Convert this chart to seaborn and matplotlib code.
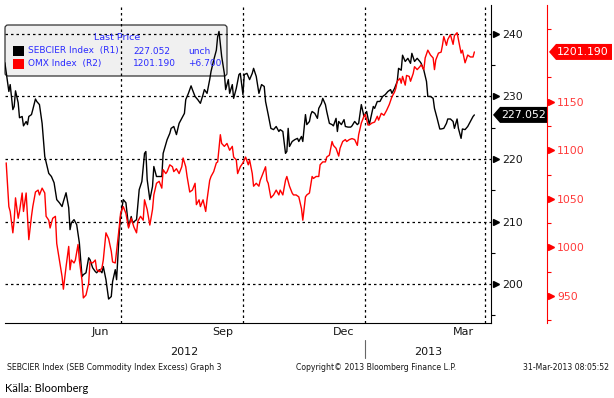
import numpy as np
import pandas as pd
import seaborn as sns
import matplotlib.pyplot as plt
import matplotlib.transforms as mtransforms
from matplotlib.patches import FancyBboxPatch, Rectangle, Polygon

sns.set_style("white")
plt.rcParams['font.family'] = ['DejaVu Sans']

# days counted from 1 Apr 2012
start = pd.Timestamp('2012-04-01')

seb_day = [4, 7, 8, 10, 11, 12, 14, 15, 17, 18,
           20, 21, 22, 24, 25, 27, 28, 30, 32, 34,
           37, 39, 41, 43, 45, 47, 48, 50, 52, 53,
           54, 56, 58, 60, 62, 63, 65, 67, 68, 70,
           72, 73, 75, 77, 78, 80, 82, 84, 85, 87,
           88, 90, 91, 93, 95, 97, 99, 100, 103, 105,
           107, 109, 110, 111, 113, 115, 116, 118, 120, 122,
           123, 126, 128, 129, 131, 133, 135, 137, 139, 140,
           142, 144, 145, 147, 149, 151, 153, 154, 156, 158,
           159, 161, 163, 164, 165, 167, 169, 170, 172, 173,
           175, 176, 178, 180, 181, 183, 184, 186, 188, 190,
           191, 193, 195, 197, 199, 200, 202, 204, 206, 208,
           210, 211, 213, 215, 216, 217, 218, 220, 222, 224,
           225, 227, 228, 230, 231, 233, 234, 235, 237, 239,
           240, 242, 243, 245, 246, 248, 250, 251, 253, 254,
           255, 257, 259, 260, 262, 264, 265, 267, 269, 270,
           272, 274, 276, 278, 281, 282, 284, 286, 288, 290,
           292, 294, 295, 297, 299, 300, 302, 303, 305, 307,
           309, 310, 312, 314, 316, 317, 319, 321, 322, 324,
           326, 327, 329, 331, 332, 334, 336, 337, 339, 341,
           342, 344, 345, 347, 348, 350, 352, 354, 356, 357]
seb_val = [235.4, 230.8, 231.9, 227.9, 228.4, 230.9, 229.0, 226.6, 226.8, 225.3,
           226.0, 225.5, 226.8, 227.1, 227.9, 229.6, 229.2, 228.7, 225.7, 220.4,
           217.7, 217.2, 216.2, 213.5, 213.0, 212.4, 213.2, 214.6, 212.2, 208.7,
           209.8, 210.3, 209.5, 206.6, 201.2, 201.5, 201.8, 204.2, 203.9, 202.6,
           202.0, 201.8, 202.3, 201.8, 202.8, 200.7, 197.6, 198.0, 200.4, 202.3,
           200.7, 208.2, 210.8, 213.5, 213.0, 209.2, 210.8, 209.8, 210.3, 215.1,
           216.4, 220.9, 221.2, 216.7, 213.5, 215.6, 218.8, 217.2, 217.2, 217.2,
           220.9, 223.1, 224.1, 224.9, 225.2, 223.9, 225.7, 226.5, 227.3, 229.5,
           230.5, 231.7, 231.1, 230.0, 229.5, 228.9, 230.3, 231.1, 230.5, 232.7,
           234.0, 235.8, 237.4, 239.6, 240.4, 236.4, 233.7, 231.1, 232.7, 230.5,
           231.9, 229.7, 231.3, 233.5, 233.7, 230.3, 233.5, 233.7, 232.7, 233.7,
           234.5, 233.2, 230.5, 231.9, 231.6, 229.2, 227.1, 224.9, 224.7, 225.2,
           224.4, 224.7, 224.4, 220.9, 221.2, 224.9, 222.0, 222.8, 223.1, 223.3,
           222.8, 223.6, 222.8, 227.1, 225.5, 226.0, 227.1, 227.6, 227.3, 226.5,
           228.1, 228.9, 229.7, 228.7, 227.6, 225.7, 225.5, 225.3, 226.5, 224.4,
           226.0, 225.5, 226.3, 225.2, 225.1, 225.1, 225.3, 226.0, 225.5, 225.7,
           228.7, 226.8, 227.6, 225.5, 228.4, 228.1, 229.2, 229.2, 230.0, 230.3,
           230.8, 231.1, 230.5, 231.3, 232.4, 234.5, 234.2, 236.6, 235.6, 236.1,
           235.3, 236.9, 235.6, 236.1, 235.6, 235.3, 234.2, 232.4, 230.0, 230.0,
           229.7, 228.1, 226.5, 224.8, 224.8, 224.9, 225.7, 226.4, 226.4, 226.0,
           224.9, 226.4, 224.9, 223.3, 224.8, 224.7, 225.2, 226.0, 226.8, 227.052]

omx_day = [5, 7, 8, 10, 11, 12, 14, 15, 17, 18,
           20, 22, 24, 25, 27, 29, 30, 32, 34, 35,
           37, 38, 40, 42, 43, 45, 47, 48, 50, 52,
           53, 54, 56, 57, 59, 60, 62, 63, 65, 67,
           68, 70, 72, 73, 75, 77, 78, 80, 82, 84,
           85, 87, 88, 90, 91, 93, 95, 97, 99, 101,
           103, 104, 106, 108, 109, 111, 113, 115, 116, 118,
           120, 122, 123, 125, 126, 128, 130, 131, 133, 135,
           137, 138, 140, 141, 143, 145, 147, 148, 150, 151,
           153, 155, 156, 158, 159, 161, 163, 164, 166, 167,
           169, 171, 173, 175, 176, 178, 179, 181, 183, 185,
           187, 188, 190, 191, 193, 195, 196, 198, 200, 201,
           202, 204, 206, 208, 210, 211, 213, 215, 216, 218,
           220, 221, 223, 225, 227, 228, 230, 231, 233, 235,
           236, 238, 240, 241, 243, 245, 246, 248, 250, 251,
           253, 255, 256, 258, 260, 261, 263, 265, 267, 269,
           270, 272, 274, 275, 277, 278, 280, 282, 284, 285,
           287, 289, 291, 293, 295, 297, 298, 299, 301, 302,
           303, 305, 306, 308, 309, 311, 312, 314, 316, 317,
           319, 320, 322, 324, 326, 327, 328, 330, 332, 333,
           334, 336, 337, 339, 341, 342, 344, 345, 347, 348,
           350, 352, 354, 356, 357]
omx_val = [1087, 1042, 1037, 1015, 1028, 1051, 1030, 1037, 1056, 1037,
           1056, 1008, 1032, 1042, 1057, 1059, 1054, 1061, 1056, 1032,
           1028, 1020, 1030, 1032, 1004, 987, 970, 957, 980, 1001,
           977, 987, 984, 987, 1003, 987, 966, 948, 951, 963,
           985, 984, 987, 977, 975, 979, 987, 1015, 1009, 996,
           985, 984, 996, 1021, 1035, 1042, 1035, 1020, 1030, 1021,
           1015, 1027, 1032, 1028, 1049, 1039, 1023, 1039, 1054, 1066,
           1068, 1061, 1080, 1076, 1078, 1085, 1083, 1078, 1081, 1076,
           1083, 1092, 1083, 1073, 1057, 1059, 1066, 1044, 1049, 1042,
           1049, 1037, 1049, 1069, 1073, 1078, 1087, 1088, 1116, 1107,
           1104, 1107, 1100, 1104, 1093, 1090, 1076, 1083, 1087, 1093,
           1085, 1090, 1076, 1063, 1066, 1063, 1069, 1076, 1083, 1069,
           1066, 1051, 1054, 1059, 1054, 1059, 1054, 1069, 1073, 1063,
           1056, 1054, 1054, 1052, 1040, 1028, 1052, 1054, 1056, 1073,
           1071, 1073, 1073, 1085, 1088, 1088, 1093, 1095, 1109, 1105,
           1102, 1094, 1102, 1109, 1111, 1109, 1111, 1112, 1111, 1105,
           1116, 1128, 1135, 1137, 1126, 1126, 1128, 1129, 1135, 1131,
           1138, 1136, 1141, 1147, 1155, 1160, 1164, 1171, 1174, 1169,
           1176, 1167, 1177, 1176, 1171, 1179, 1186, 1183, 1186, 1188,
           1183, 1195, 1203, 1198, 1195, 1183, 1193, 1200, 1201, 1208,
           1217, 1208, 1214, 1219, 1209, 1218, 1221, 1214, 1200, 1203,
           1190, 1198, 1196, 1196, 1201.19]

seb_ticks = [200, 210, 220, 230, 240]
seb_minor = [195, 205, 215, 225, 235]
omx_ticks = [950, 1000, 1050, 1100, 1150]
omx_minor = [925, 975, 1025, 1075, 1125, 1175, 1225]
month_labels = ['Jun', 'Sep', 'Dec', 'Mar']
month_mid = ['2012-06-16', '2012-09-16', '2012-12-16', '2013-03-16']
quarter_lines = ['2012-07-01', '2012-10-01', '2013-01-01', '2013-04-01']
legend_names = ['SEBCIER Index  (R1)', 'OMX Index  (R2)']
legend_last = ['227.052', '1201.190']
legend_chg = ['unch', '+6.700']

seb = pd.DataFrame({'date': start + pd.to_timedelta(seb_day, unit='D'), 'val': seb_val})
omx = pd.DataFrame({'date': start + pd.to_timedelta(omx_day, unit='D'), 'val': omx_val})

W, H = 614, 398
fig = plt.figure(figsize=(W / 100, H / 100), dpi=100)
fig.patch.set_facecolor('white')
L, R, T, B = 5, 491, 5, 323
ax = fig.add_axes([L / W, 1 - B / H, (R - L) / W, (B - T) / H])
ax2 = ax.twinx()

def px(x, y):
    return x / W, 1 - y / H

# legend box sits under the lines / grid
ident = mtransforms.IdentityTransform()
ax.add_patch(FancyBboxPatch((5, H - 76), 222, 51, boxstyle='round,pad=0,rounding_size=3',
                            fc='#f0f0f0', ec='#333333', lw=0.9, transform=ident,
                            zorder=0.5, clip_on=False))

sns.lineplot(data=seb, x='date', y='val', ax=ax, color='black', lw=1.0, zorder=3)
sns.lineplot(data=omx, x='date', y='val', ax=ax2, color='#ff0000', lw=1.0, zorder=3)

ax.set_ylim(193.77, 244.63)
ax2.set_ylim(922.2, 1249.5)
ax.set_xlim(start + pd.Timedelta(days=4.1), start + pd.Timedelta(days=369.5))
for a in (ax, ax2):
    a.set_xlabel('')
    a.set_ylabel('')

# dotted grid
for v in seb_ticks:
    ax.axhline(v, color='black', lw=0.9, ls=(0, (2, 2.4)), zorder=1)
for d in quarter_lines:
    ax.axvline(pd.Timestamp(d), color='black', lw=0.9, ls=(0, (2, 2.4)), zorder=1)

# spines
for s in ['left', 'top']:
    ax.spines[s].set_visible(False)
ax.spines['bottom'].set_color('black')
ax.spines['right'].set_color('black')
for s in ['left', 'top', 'bottom']:
    ax2.spines[s].set_visible(False)
ax2.spines['right'].set_position(('outward', (547 - R) * 0.72))
ax2.spines['right'].set_color('#ff0000')

# black axis
ax.yaxis.tick_right()
ax.set_yticks(seb_ticks)
ax.set_yticks(seb_minor, minor=True)
ax.tick_params(axis='y', which='major', length=0, pad=8, labelsize=7.8, labelcolor='#151515')
ax.tick_params(axis='y', which='minor', length=3, width=0.8, color='black', direction='out')
blend1 = mtransforms.blended_transform_factory(ax.transAxes, ax.transData)
ax.plot(np.full(len(seb_ticks), 1 + 4.5 / (R - L)), seb_ticks, ls='', marker='>', ms=5,
        color='black', transform=blend1, clip_on=False)

# red axis
ax2.set_yticks(omx_ticks)
ax2.set_yticks(omx_minor, minor=True)
ax2.tick_params(axis='y', which='major', length=0, pad=7.2, labelsize=7.8, labelcolor='#ff3a3a')
ax2.tick_params(axis='y', which='minor', length=3, width=0.8, color='#ff0000', direction='out')
blend2 = mtransforms.blended_transform_factory(ax2.transAxes, ax2.transData)
ax2.plot(np.full(len(omx_ticks), (551 - L) / (R - L)), omx_ticks, ls='', marker='>', ms=5,
         color='#ff0000', transform=blend2, clip_on=False)

# x axis: month ticks, labels mid-month
ax.set_xticks(pd.to_datetime(month_mid))
ax.set_xticklabels(month_labels)
ax.set_xticks(pd.date_range('2012-05-01', '2013-04-01', freq='MS'), minor=True)
ax.tick_params(axis='x', which='major', length=0, pad=3, labelsize=8, labelcolor='#151515')
ax.tick_params(axis='x', which='minor', length=4, width=0.8, color='black', direction='out')

# year row
fig.text(*px(184, 352), '2012', ha='center', va='center', fontsize=8, color='#151515')
fig.text(*px(428, 352), '2013', ha='center', va='center', fontsize=8, color='#151515')
blend3 = mtransforms.blended_transform_factory(ax.transData, fig.transFigure)
jan = pd.Timestamp('2013-01-01')
ax.plot([jan, jan], [1 - 340 / H, 1 - 358 / H], color='#666666', lw=0.8,
        transform=blend3, clip_on=False)

# value tags
yb = ax.transData.transform([[ax.get_xlim()[0], seb_val[-1]]])[0][1]
ax.add_patch(Polygon([[493, yb], [500, yb + 8], [547, yb + 8], [547, yb - 8], [500, yb - 8]],
                     closed=True, fc='black', ec='none', transform=ident, clip_on=False, zorder=5))
fig.text(524 / W, yb / H, legend_last[0], ha='center', va='center', fontsize=7.8, color='white')
yr = ax2.transData.transform([[ax2.get_xlim()[0], omx_val[-1]]])[0][1]
ax2.add_patch(Polygon([[549, yr], [556, yr + 8], [612, yr + 8], [612, yr - 8], [556, yr - 8]],
                      closed=True, fc='#ff0000', ec='none', transform=ident, clip_on=False, zorder=5))
fig.text(583 / W, yr / H, legend_last[1], ha='center', va='center', fontsize=7.8, color='white')

# legend contents
blue = '#2b2bff'
fig.text(*px(117, 38), 'Last Price', ha='center', va='center', fontsize=6.8, color=blue)
for i, (c, yy) in enumerate([('black', 51), ('#ff0000', 63.5)]):
    fig.patches.append(Rectangle((13, H - yy - 5), 11, 10, fc=c, ec='none',
                                 transform=ident, figure=fig))
    fig.text(*px(27.5, yy), legend_names[i], va='center', fontsize=6.5, color=blue)
    fig.text(*px(133, yy), legend_last[i], va='center', fontsize=6.5, color=blue)
    fig.text(*px(188, yy), legend_chg[i], va='center', fontsize=6.5, color=blue)

# footer
fs = 5.6
fig.text(*px(7, 367), 'SEBCIER Index (SEB Commodity Index Excess) Graph 3', va='center',
         fontsize=fs, color='#151515')
fig.text(*px(296, 367), 'Copyright\u00a9 2013 Bloomberg Finance L.P.', va='center',
         fontsize=fs, color='#151515')
fig.text(*px(609, 367), '31-Mar-2013 08:05:52', ha='right', va='center',
         fontsize=fs, color='#151515')
fig.text(*px(5, 388), 'Källa: Bloomberg', va='center', fontsize=8, color='black',
         family=['Lato', 'DejaVu Sans'])

fig.savefig('out.png', dpi=100)
